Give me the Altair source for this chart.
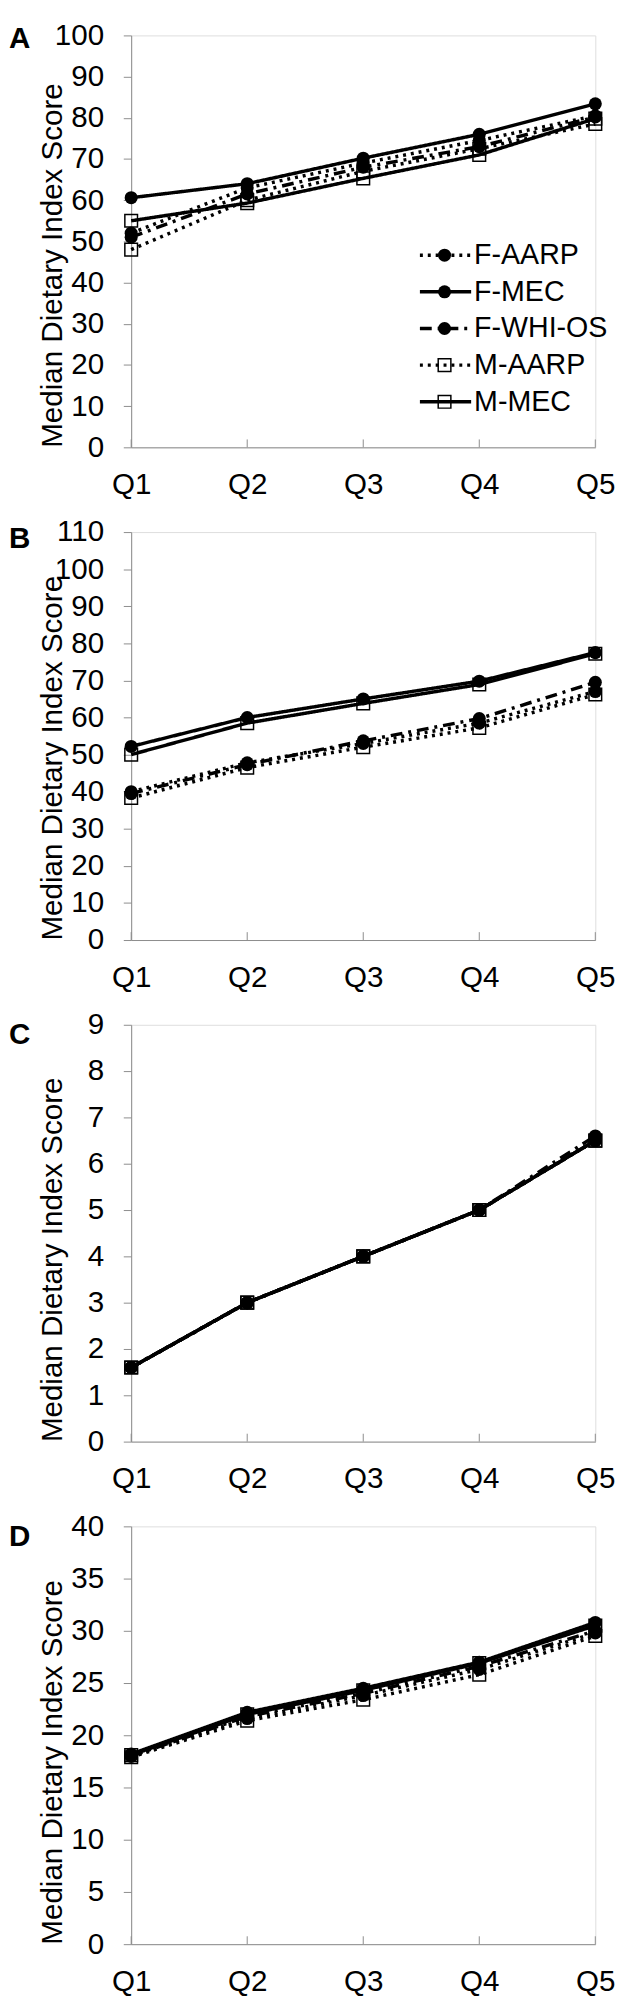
import altair as alt
import pandas as pd

FONT = "Liberation Sans"
GRAY = "#8c8c8c"

quintiles = ["Q1", "Q2", "Q3", "Q4", "Q5"]
series_names = ["F-AARP", "F-MEC", "F-WHI-OS", "M-AARP", "M-MEC"]

# Panel A
a_f_aarp = [52.0, 63.0, 69.0, 74.5, 80.5]
a_f_mec = [60.6, 64.0, 70.2, 76.0, 83.4]
a_f_whios = [51.0, 61.5, 68.0, 73.0, 80.2]
a_m_aarp = [48.0, 60.0, 67.0, 72.5, 78.5]
a_m_mec = [55.0, 59.3, 65.3, 71.0, 79.8]

# Panel B
b_f_aarp = [40.0, 47.8, 53.0, 58.5, 67.0]
b_f_mec = [52.2, 60.0, 65.0, 69.8, 77.5]
b_f_whios = [39.5, 47.3, 53.7, 59.7, 69.5]
b_m_aarp = [38.3, 46.5, 52.0, 57.2, 66.2]
b_m_mec = [50.0, 58.5, 63.8, 68.9, 77.2]

# Panel C
c_f_aarp = [1.6, 3.0, 4.0, 5.0, 6.5]
c_f_mec = [1.6, 3.0, 4.0, 5.0, 6.5]
c_f_whios = [1.6, 3.0, 4.0, 5.0, 6.6]
c_m_aarp = [1.6, 3.0, 4.0, 5.0, 6.5]
c_m_mec = [1.6, 3.0, 4.0, 5.0, 6.5]

# Panel D
d_f_aarp = [18.0, 21.6, 23.8, 26.3, 29.8]
d_f_mec = [18.2, 22.2, 24.5, 27.0, 30.8]
d_f_whios = [18.0, 21.8, 24.0, 26.6, 30.0]
d_m_aarp = [17.9, 21.4, 23.4, 25.8, 29.5]
d_m_mec = [18.1, 22.0, 24.3, 26.9, 30.5]

y_ticks_a = list(range(0, 101, 10))
y_ticks_b = list(range(0, 111, 10))
y_ticks_c = list(range(0, 10, 1))
y_ticks_d = list(range(0, 41, 5))

DASHES = [[3, 5], [1, 0], [12, 6, 3, 6], [3, 5], [1, 0]]
WIDTH = 471
LINE_W = 3.5
CIRCLE_SIZE = 175
SQUARE_SIZE = 165


def long_df(cols):
    rows = []
    for s, vals in zip(series_names, cols):
        for q, v in zip(quintiles, vals):
            rows.append({"series": s, "q": q, "v": v, "sex": s[0]})
    return pd.DataFrame(rows)


dash_enc = alt.StrokeDash(
    "series:N",
    scale=alt.Scale(domain=series_names, range=DASHES),
    legend=None,
)

x_scale = alt.Scale(domain=quintiles, type="point", padding=0)


def panel(letter, cols, ticks, h, letter_y, legend_top=None):
    df = long_df(cols)
    x = alt.X("q:N", sort=quintiles, scale=x_scale, title=None)
    y = alt.Y(
        "v:Q",
        scale=alt.Scale(domain=[ticks[0], ticks[-1]], nice=False, zero=True),
        axis=alt.Axis(
            title="Median Dietary Index Score", values=ticks,
            titleX=-71, titleY=h,
        ),
    )
    base = alt.Chart(df)
    lines = base.mark_line(color="black", strokeWidth=LINE_W).encode(
        x=x, y=y, strokeDash=dash_enc, detail="series:N"
    )
    squares = base.transform_filter(alt.datum.sex == "M").mark_point(
        shape="square", filled=False, stroke="black", strokeWidth=1.5,
        size=SQUARE_SIZE, opacity=1,
    ).encode(x=x, y=y)
    circles = base.transform_filter(alt.datum.sex == "F").mark_circle(
        color="black", size=CIRCLE_SIZE, opacity=1
    ).encode(x=x, y=y)
    tick_df = pd.DataFrame({"q": quintiles})
    inner_ticks = alt.Chart(tick_df).mark_rule(color=GRAY, strokeWidth=1).encode(
        x=alt.X("q:N", sort=quintiles, scale=x_scale, title=None),
        y=alt.value(h), y2=alt.value(h - 8),
    )
    lab = alt.Chart(pd.DataFrame({"t": [letter]})).mark_text(
        align="left", baseline="alphabetic", font=FONT, fontSize=30,
        fontWeight="bold", color="black",
    ).encode(x=alt.value(-124), y=alt.value(letter_y), text="t:N")
    layers = [lines, squares, circles, inner_ticks, lab]
    if legend_top is not None:
        leg = pd.DataFrame({"series": series_names, "row": list(range(5))})
        leg["ly"] = legend_top + 37.2 * leg["row"]
        leg["sex"] = leg["series"].str[0]
        lb = alt.Chart(leg)
        ly = alt.Y("ly:Q", scale=None, axis=None)
        leg_lines = lb.mark_rule(color="black", strokeWidth=LINE_W).encode(
            x=alt.value(293), x2=alt.value(345), y=ly, strokeDash=dash_enc
        )
        leg_sq = lb.transform_filter(alt.datum.sex == "M").mark_point(
            shape="square", filled=False, stroke="black", strokeWidth=1.5,
            size=SQUARE_SIZE, opacity=1,
        ).encode(x=alt.value(318), y=ly)
        leg_ci = lb.transform_filter(alt.datum.sex == "F").mark_circle(
            color="black", size=CIRCLE_SIZE, opacity=1
        ).encode(x=alt.value(318), y=ly)
        leg_tx = lb.mark_text(
            align="left", baseline="middle", font=FONT, fontSize=29,
            color="black",
        ).encode(x=alt.value(348), y=ly, text="series:N")
        layers += [leg_lines, leg_sq, leg_ci, leg_tx]
    return alt.layer(*layers).properties(width=WIDTH, height=h)


pa = panel("A", [a_f_aarp, a_f_mec, a_f_whios, a_m_aarp, a_m_mec], y_ticks_a, 418, 13, legend_top=223)
pb = panel("B", [b_f_aarp, b_f_mec, b_f_whios, b_m_aarp, b_m_mec], y_ticks_b, 414, 16)
pc = panel("C", [c_f_aarp, c_f_mec, c_f_whios, c_m_aarp, c_m_mec], y_ticks_c, 423, 19)
pd_ = panel("D", [d_f_aarp, d_f_mec, d_f_whios, d_m_aarp, d_m_mec], y_ticks_d, 424, 20)

chart = (
    alt.vconcat(pa, pb, pc, pd_, spacing=86, bounds="flush")
    .resolve_scale(y="independent")
    .configure_view(stroke=None)
    .configure(font=FONT)
    .configure_axis(
        grid=False, domainColor=GRAY, tickColor=GRAY,
        labelFont=FONT, labelFontSize=30, labelColor="black",
        titleFont=FONT, titleFontSize=30, titleFontWeight="normal",
        titleColor="black",
    )
    .configure_axisX(
        ticks=False, tickSize=0, labelPadding=23, labelAngle=0,
    )
    .configure_axisY(
        tickSize=8, labelPadding=20, titleAngle=270, titleAlign="left",
        titleBaseline="alphabetic",
    )
    .properties(padding={"top": -3, "left": 0, "right": 0, "bottom": 0},
                background="white")
)

chart.save("out.html", embed_options={"renderer": "svg", "actions": False})
